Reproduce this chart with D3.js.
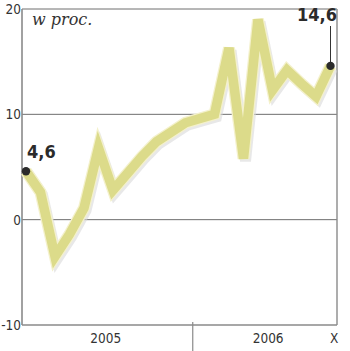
<!DOCTYPE html>
<html>
<head>
<meta charset="utf-8">
<script src="https://cdn.jsdelivr.net/npm/d3@7"></script>
<style>
  body { margin: 0; background: #fff; }
  svg { display: block; }
</style>
</head>
<body>
<script>
// monthly data, Jan 2005 .. Oct 2006
const months = ["I","II","III","IV","V","VI","VII","VIII","IX","X","XI","XII",
                "I","II","III","IV","V","VI","VII","VIII","IX","X"];
const values = [4.6, 2.6, -3.5, -1.4, 1.1, 6.8, 2.8, 4.4, 6.0, 7.4, 8.3, 9.2,
                9.6, 10.0, 16.3, 5.8, 19.0, 12.3, 14.2, 12.9, 11.7, 14.6];
const yTicks = [-10, 0, 10, 20];
const yearLabels = [
    { text: "2005", at: 5.5 },
    { text: "2006", at: 16.7 },
    { text: "X", at: 21.25 }
];

const width = 350, height = 351;
const plot = { left: 22, right: 337, top: 9, bottom: 325 };

const svg = d3.select("body")
    .append("svg")
    .attr("width", width)
    .attr("height", height);

// scales
const x = d3.scaleLinear()
    .domain([0, values.length - 1])
    .range([26, 330.5]);

const y = d3.scaleLinear()
    .domain([-10, 20])
    .range([plot.bottom, plot.top]);

// horizontal grid lines
svg.append("g")
    .selectAll("line")
    .data(yTicks)
    .enter()
    .append("line")
    .attr("x1", plot.left)
    .attr("x2", plot.right)
    .attr("y1", d => y(d))
    .attr("y2", d => y(d))
    .attr("stroke", d => d === -10 ? "#8a8a8a" : "#6e6e6e")
    .attr("stroke-width", d => d === -10 ? 1.6 : 1);

// frame: left axis and right edge
svg.append("line")
    .attr("x1", plot.left).attr("x2", plot.left)
    .attr("y1", plot.top).attr("y2", plot.bottom)
    .attr("stroke", "#8a8a8a").attr("stroke-width", 1.6);
svg.append("line")
    .attr("x1", plot.right).attr("x2", plot.right)
    .attr("y1", plot.top).attr("y2", plot.bottom)
    .attr("stroke", "#8a8a8a").attr("stroke-width", 1.4);

// year separator
svg.append("line")
    .attr("x1", x(11.5)).attr("x2", x(11.5))
    .attr("y1", plot.bottom - 3).attr("y2", height)
    .attr("stroke", "#8a8a8a").attr("stroke-width", 1.2);

// y tick labels
svg.append("g")
    .selectAll("text")
    .data(yTicks)
    .enter()
    .append("text")
    .attr("x", plot.left - 1)
    .attr("y", d => y(d))
    .attr("dy", "0.36em")
    .attr("text-anchor", "end")
    .style("font-family", "'DejaVu Sans Condensed', 'DejaVu Sans', sans-serif")
    .style("font-size", "13.5px")
    .attr("fill", "#333")
    .text(d => d);

// x labels
svg.append("g")
    .selectAll("text")
    .data(yearLabels)
    .enter()
    .append("text")
    .attr("x", d => x(d.at))
    .attr("y", 343)
    .attr("text-anchor", "middle")
    .style("font-family", "'DejaVu Sans Condensed', 'DejaVu Sans', sans-serif")
    .style("font-size", "13.5px")
    .attr("fill", "#333")
    .text(d => d.text);

// unit label
svg.append("text")
    .attr("x", 32)
    .attr("y", 25)
    .style("font-family", "'DejaVu Serif', serif")
    .style("font-style", "italic")
    .style("font-size", "16px")
    .attr("fill", "#333")
    .text("w proc.");

// the line
const line = d3.line()
    .x((d, i) => x(i))
    .y(d => y(d));

svg.append("path")
    .datum(values)
    .attr("d", line)
    .attr("transform", "translate(2,2.5)")
    .attr("fill", "none")
    .attr("stroke", "#d8d8d8")
    .attr("stroke-opacity", 0.6)
    .attr("stroke-width", 11)
    .attr("stroke-linejoin", "miter");

svg.append("path")
    .datum(values)
    .attr("d", line)
    .attr("fill", "none")
    .attr("stroke", "#f4f1cc")
    .attr("stroke-width", 12)
    .attr("stroke-linejoin", "miter");

svg.append("path")
    .datum(values)
    .attr("d", line)
    .attr("fill", "none")
    .attr("stroke", "#dcdb8a")
    .attr("stroke-width", 9.5)
    .attr("stroke-linejoin", "miter");

// end points
const last = values.length - 1;

svg.append("line")
    .attr("x1", x(last)).attr("x2", x(last))
    .attr("y1", 26).attr("y2", y(values[last]))
    .attr("stroke", "#333").attr("stroke-width", 1);

svg.selectAll("circle")
    .data([0, last])
    .enter()
    .append("circle")
    .attr("cx", i => x(i))
    .attr("cy", i => y(values[i]))
    .attr("r", 4.2)
    .attr("fill", "#2b2b2b");

svg.append("text")
    .attr("x", 27)
    .attr("y", 158)
    .style("font-family", "'DejaVu Sans Condensed', 'DejaVu Sans', sans-serif")
    .style("font-weight", "bold")
    .style("font-size", "18px")
    .attr("fill", "#2b2b2b")
    .text(values[0].toString().replace(".", ","));

svg.append("text")
    .attr("x", 337)
    .attr("y", 21)
    .attr("text-anchor", "end")
    .style("font-family", "'DejaVu Sans Condensed', 'DejaVu Sans', sans-serif")
    .style("font-weight", "bold")
    .style("font-size", "18px")
    .attr("fill", "#2b2b2b")
    .text(values[last].toString().replace(".", ","));
</script>
</body>
</html>
